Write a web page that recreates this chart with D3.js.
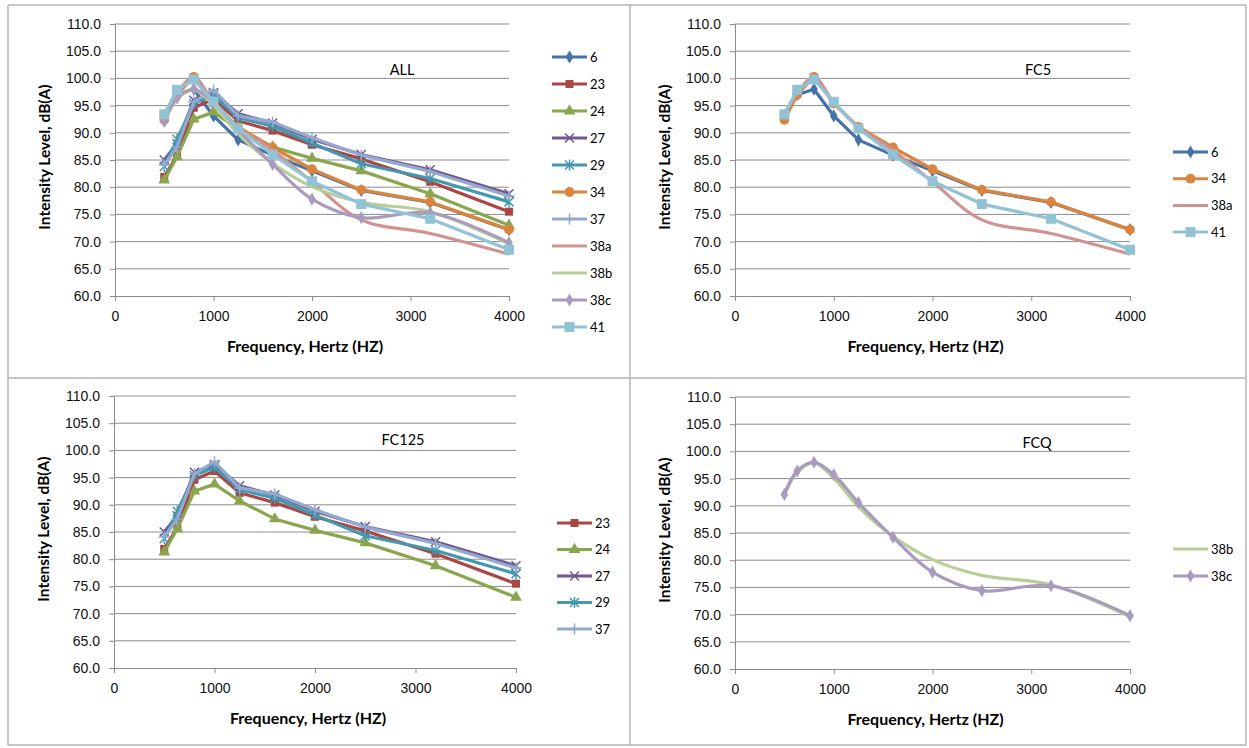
<!DOCTYPE html>
<html>
<head>
<meta charset="utf-8">
<script src="https://cdn.jsdelivr.net/npm/d3@7"></script>
<style>
  body { margin: 0; background: #fff; }
  svg { display: block; font-family: Lato, "Open Sans", sans-serif; }
</style>
</head>
<body>
<svg></svg>
<script>
// frequency bands (Hz) and tick values
let freqs = [500, 630, 800, 1000, 1250, 1600, 2000, 2500, 3200, 4000];
let xTicks = [0, 1000, 2000, 3000, 4000];
let yTicks = [60, 65, 70, 75, 80, 85, 90, 95, 100, 105, 110];

// intensity level, dB(A), per measurement
let s6   = [93.2, 97.0, 98.0, 93.1, 88.7, 85.9, 83.0, 79.4, 77.2, 72.2];
let s23  = [81.9, 85.8, 94.6, 96.2, 92.2, 90.4, 87.8, 85.2, 81.0, 75.5];
let s24  = [81.3, 85.6, 92.5, 93.8, 90.7, 87.4, 85.3, 83.0, 78.8, 73.0];
let s27  = [85.0, 88.0, 96.0, 97.4, 93.5, 91.8, 88.8, 86.0, 83.2, 78.8];
let s29  = [83.8, 88.8, 95.4, 96.9, 92.8, 91.2, 88.1, 84.3, 81.6, 77.3];
let s34  = [92.4, 97.0, 100.3, 95.4, 91.1, 87.3, 83.3, 79.5, 77.3, 72.2];
let s37  = [84.1, 87.4, 95.7, 97.9, 93.1, 92.0, 89.1, 85.9, 82.9, 78.4];
let s38a = [93.0, 97.3, 100.2, 95.6, 91.0, 86.8, 81.0, 74.0, 71.5, 67.7];
let s38b = [92.0, 96.2, 97.9, 95.1, 89.8, 84.4, 80.1, 77.2, 75.5, 69.6];
let s38c = [92.1, 96.4, 98.0, 95.7, 90.6, 84.2, 77.8, 74.4, 75.3, 69.8];
let s41  = [93.4, 97.9, 99.8, 95.7, 90.8, 86.0, 81.1, 76.9, 74.2, 68.5];

let seriesNames = ['6', '23', '24', '27', '29', '34', '37', '38a', '38b', '38c', '41'];
let seriesValues = [s6, s23, s24, s27, s29, s34, s37, s38a, s38b, s38c, s41];

let panelNames = ['ALL', 'FC5', 'FC125', 'FCQ'];
let panelSeries = [
  ['6', '23', '24', '27', '29', '34', '37', '38a', '38b', '38c', '41'],
  ['6', '34', '38a', '41'],
  ['23', '24', '27', '29', '37'],
  ['38b', '38c']
];

let styles = {
  '6':   { color: '#4572A7', marker: 'diamond', smooth: false },
  '23':  { color: '#AA4643', marker: 'square', smooth: false },
  '24':  { color: '#89A54E', marker: 'triangle', smooth: false },
  '27':  { color: '#71588F', marker: 'x', smooth: false },
  '29':  { color: '#4198AF', marker: 'star', smooth: false },
  '34':  { color: '#DB843D', marker: 'circle', smooth: false },
  '37':  { color: '#93A9CF', marker: 'plus', smooth: false },
  '38a': { color: '#D19392', marker: null, smooth: true },
  '38b': { color: '#B9CD96', marker: null, smooth: true },
  '38c': { color: '#A99BBD', marker: 'diamond', smooth: true },
  '41':  { color: '#91C3D5', marker: 'bigsquare', smooth: false }
};

// panel geometry
let panels = [
  { x0: 115, x1: 509, y0: 24, y1: 296, label: [402, 70], legend: { x: 552, y: 57, step: 27 } },
  { x0: 735, x1: 1130, y0: 24, y1: 296, label: [1038, 70], legend: { x: 1173, y: 152, step: 26.7 } },
  { x0: 114, x1: 516, y0: 396, y1: 668, label: [403, 440], legend: { x: 557, y: 523, step: 26.5 } },
  { x0: 735, x1: 1130, y0: 397, y1: 669, label: [1037, 443], legend: { x: 1173, y: 549, step: 27 } }
];

let w = 1249;
let h = 748;
let svg = d3.select('svg').attr('width', w).attr('height', h);

// frame lines
let frame = [
  [8, 5, 1246, 5], [8, 5, 8, 745], [8, 745, 1246, 745], [1246, 5, 1246, 745],
  [8, 378, 1246, 378], [630, 5, 630, 745]
];
svg.selectAll('line.frame')
   .data(frame)
   .enter()
   .append('line')
   .attr('x1', d => d[0]).attr('y1', d => d[1])
   .attr('x2', d => d[2]).attr('y2', d => d[3])
   .attr('stroke', '#b4b4b4')
   .attr('stroke-width', 1.5);

let drawMarker = (g, type, color, x, y) => {
  if (!type) return;
  if (type === 'x' || type === 'star' || type === 'plus') {
    let r = 4.5;
    let p = '';
    if (type !== 'plus') p += `M${x - r},${y - r}L${x + r},${y + r}M${x - r},${y + r}L${x + r},${y - r}`;
    if (type !== 'x') p += `M${x},${y - r - 1}L${x},${y + r + 1}`;
    if (type === 'plus') p += `M${x - r - 1},${y}L${x + r + 1},${y}`;
    g.append('path').attr('d', p).attr('stroke', color).attr('stroke-width', 1.5).attr('fill', 'none');
    return;
  }
  let sym = { diamond: d3.symbolDiamond, square: d3.symbolSquare, bigsquare: d3.symbolSquare,
              triangle: d3.symbolTriangle, circle: d3.symbolCircle }[type];
  let size = { diamond: 50, square: 64, bigsquare: 100, triangle: 60, circle: 75 }[type];
  g.append('path')
   .attr('d', d3.symbol().type(sym).size(size)())
   .attr('transform', `translate(${x},${y})`)
   .attr('fill', color);
};

let drawPanel = (p, i) => {
  let xSc = d3.scaleLinear().domain([0, 4000]).range([p.x0, p.x1]);
  let ySc = d3.scaleLinear().domain([60, 110]).range([p.y1, p.y0]);
  let g = svg.append('g');

  // gridlines
  g.selectAll('line.grid')
   .data(yTicks.slice(1))
   .enter()
   .append('line')
   .attr('x1', p.x0).attr('x2', p.x1)
   .attr('y1', d => ySc(d)).attr('y2', d => ySc(d))
   .attr('stroke', '#8c8c8c')
   .attr('stroke-width', 1);

  let xAxis = d3.axisBottom(xSc).tickValues(xTicks).tickSize(5).tickPadding(10).tickFormat(d3.format('d'));
  g.append('g')
   .attr('transform', `translate(0, ${p.y1})`)
   .call(xAxis)
   .call(a => a.select('.domain').attr('stroke', '#8c8c8c'))
   .call(a => a.selectAll('line').attr('stroke', '#8c8c8c'))
   .call(a => a.selectAll('text').attr('font-size', 14).attr('fill', '#111').attr('font-family', null));

  let yAxis = d3.axisLeft(ySc).tickValues(yTicks).tickSize(5).tickPadding(9).tickFormat(d3.format('.1f'));
  g.append('g')
   .attr('transform', `translate(${p.x0}, 0)`)
   .call(yAxis)
   .call(a => a.select('.domain').attr('stroke', '#8c8c8c'))
   .call(a => a.selectAll('line').attr('stroke', '#8c8c8c'))
   .call(a => a.selectAll('text').attr('font-size', 14).attr('fill', '#111').attr('font-family', null));

  // axis titles
  g.append('text')
   .attr('x', (p.x0 + p.x1) / 2 - 7)
   .attr('y', p.y1 + 56)
   .attr('text-anchor', 'middle')
   .attr('font-weight', 'bold')
   .attr('font-size', 16)
   .text('Frequency, Hertz (HZ)');
  g.append('text')
   .attr('transform', `translate(${p.x0 - 65}, ${(p.y0 + p.y1) / 2 - 3}) rotate(-90)`)
   .attr('text-anchor', 'middle')
   .attr('font-weight', 'bold')
   .attr('font-size', 15.5)
   .text('Intensity Level, dB(A)');

  // panel label
  g.append('text')
   .attr('x', p.label[0]).attr('y', p.label[1] + 5)
   .attr('text-anchor', 'middle')
   .attr('font-size', 14.5)
   .text(panelNames[i]);

  // series lines and markers
  panelSeries[i].forEach(name => {
    let vals = seriesValues[seriesNames.indexOf(name)];
    let st = styles[name];
    let pts = freqs.map((f, k) => [f, vals[k]]);
    let line = d3.line()
                 .x(d => xSc(d[0]))
                 .y(d => ySc(d[1]))
                 .curve(st.smooth ? d3.curveCatmullRom.alpha(0.5) : d3.curveLinear);
    g.append('path')
     .attr('d', line(pts))
     .attr('fill', 'none')
     .attr('stroke', st.color)
     .attr('stroke-width', 3.2)
     .attr('stroke-linejoin', 'round');
    pts.forEach(d => drawMarker(g, st.marker, st.color, xSc(d[0]), ySc(d[1])));
  });

  // legend
  panelSeries[i].forEach((name, k) => {
    let st = styles[name];
    let ly = p.legend.y + k * p.legend.step;
    g.append('line')
     .attr('x1', p.legend.x).attr('x2', p.legend.x + 35)
     .attr('y1', ly).attr('y2', ly)
     .attr('stroke', st.color)
     .attr('stroke-width', 3);
    drawMarker(g, st.marker, st.color, p.legend.x + 17.5, ly);
    g.append('text')
     .attr('x', p.legend.x + 38).attr('y', ly + 4.5)
     .attr('font-size', 13)
     .text(name);
  });
};

panels.forEach(drawPanel);
</script>
</body>
</html>
